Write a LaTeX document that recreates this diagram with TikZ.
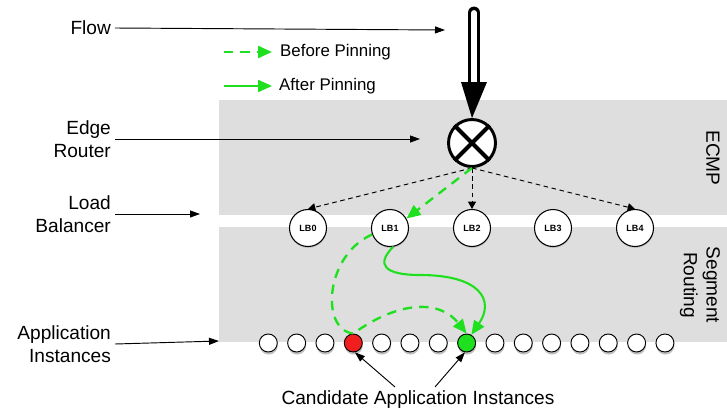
\documentclass[tikz,border=0pt]{standalone}
\usepackage{fontspec}
\setmainfont{Liberation Sans}
\usetikzlibrary{arrows.meta,shadows}

\definecolor{bandgray}{HTML}{DEDEDE}
\definecolor{pingreen}{HTML}{1EE01E}
\definecolor{appred}{HTML}{F01E1E}

\tikzset{
  sidetext/.style={anchor=east, align=right, font=\fontsize{16.3}{19.5}\selectfont},
  legtext/.style={anchor=west, inner sep=0pt, font=\fontsize{14.4}{17}\selectfont},
  pointer/.style={-{Triangle[length=0.3cm,width=0.21cm]}, line width=0.8pt},
  ecmp/.style={-{Triangle[length=0.22cm,width=0.24cm]}, line width=0.8pt, dash pattern=on 4pt off 3pt},
  before/.style={pingreen, line width=2pt, dash pattern=on 8pt off 6pt, -{Triangle[length=0.42cm,width=0.36cm]}},
  after/.style={pingreen, line width=1.8pt, -{Triangle[length=0.42cm,width=0.36cm]}},
  lbnode/.style={circle, draw, line width=0.9pt, fill=white, minimum size=1.11cm, inner sep=0pt,
    font=\bfseries\fontsize{7.7}{9}\selectfont, drop shadow={shadow xshift=0.3pt, shadow yshift=-1.2pt, opacity=0.35}},
  appnode/.style={circle, draw, line width=0.8pt, fill=white, minimum size=0.54cm, inner sep=0pt,
    drop shadow={shadow xshift=0.4pt, shadow yshift=-2.2pt, opacity=0.5}},
}

\begin{document}
\begin{tikzpicture}[x=0.03cm, y=-0.03cm]
    \useasboundingbox (0,0) rectangle (727,414);

    % Bands
    \fill[bandgray] (219,100) rectangle (727,215);
    \fill[bandgray] (219,227) rectangle (727,342);
    \node[rotate=-90, font=\fontsize{16.3}{19.5}\selectfont] (ecmplbl) at (713,158) {ECMP};
    \node[rotate=-90, align=center, font=\fontsize{16.3}{19.5}\selectfont] (srlbl) at (700,285) {Segment\\Routing};

    % Legend
    \coordinate (bstart) at (224,52);
    \coordinate (astart) at (224,86);
    \node[legtext] (beforelbl) at (280,52) {Before Pinning};
    \node[legtext] (afterlbl) at (279,86) {After Pinning};
    \draw[before] (bstart) -- ([xshift=-0.24cm]beforelbl.west);
    \draw[after] (astart) -- ([xshift=-0.21cm]afterlbl.west);

    % Edge router
    \node[circle, draw, line width=2.5pt, fill=white, minimum size=1.41cm,
      drop shadow={shadow xshift=0.4pt, shadow yshift=-1.5pt, opacity=0.4}] (router) at (472,143) {};
    \draw[line width=3.5pt] (router.45) -- (router.225) (router.135) -- (router.-45);

    % Flow
    \coordinate (flowtop) at (474,13);
    \coordinate (flowbase) at (474,84);
    \draw[line width=3pt, double=white, double distance=5pt, line cap=round] (flowtop) -- (flowbase);
    \fill (461,82) -- (487,82) -- (router.north) -- cycle;

    % Load balancers
    \foreach \i/\x in {0/308,1/390,2/472,3/553,4/635}
        \node[lbnode] (lb\i) at (\x,228) {LB\i};
    \draw[ecmp] (router.south) -- (lb0.north);
    \draw[ecmp] (router.south) -- (lb2.north);
    \draw[ecmp] (router.south) -- (lb4.north);

    % Application instances
    \foreach \i in {0,1,2,4,5,6,8,9,10,11,12,13,14}
        \node[appnode] (app\i) at ({268.3+28.33*\i},343) {};
    \node[appnode, fill=appred] (red) at ({268.3+28.33*3},343) {};
    \node[appnode, fill=pingreen] (green) at ({268.3+28.33*7},343) {};

    % Pinning paths
    \draw[before] (router.south) -- (lb1.30);
    \draw[before] (lb1.200) .. controls (325,255) and (320,330) .. (red.north)
        .. controls (400,300) and (440,300) .. (green.north);
    \draw[after] (lb1.-80) .. controls (375,265) and (385,275) .. (420,275)
        .. controls (480,275) and (495,300) .. (green.60);

    % Labels
    \node[sidetext] (flowlbl) at (115,28) {Flow};
    \node[sidetext] (edgelbl) at (115,139) {Edge\\Router};
    \node[sidetext] (lblbl) at (115,214) {Load\\Balancer};
    \node[sidetext] (applbl) at (115,344) {Application\\Instances};
    \coordinate (flowpt) at (445,30);
    \coordinate (edgept) at (420,139);
    \coordinate (lbpt) at (200,214);
    \coordinate (apppt) at (219,341);
    \draw[pointer] (flowlbl.east) -- (flowpt);
    \draw[pointer] (edgelbl.east) -- (edgept);
    \draw[pointer] (lblbl.east) -- (lbpt);
    \draw[pointer] (applbl.east) -- (apppt);

    \node[font=\fontsize{16.3}{19.5}\selectfont] (cand) at (418,400) {Candidate Application Instances};
    \draw[pointer] ([xshift=-0.69cm]cand.north) -- (red.-80);
    \draw[pointer] ([xshift=0.51cm]cand.north) -- (green.-100);
\end{tikzpicture}
\end{document}
